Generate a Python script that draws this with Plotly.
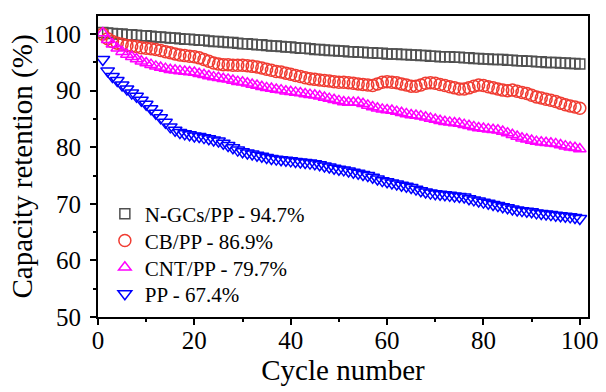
import plotly.graph_objects as go

cycles = list(range(1, 101))

ngcs_pp = [100.3, 100.2, 100.1, 100.0, 100.0, 99.9, 99.9, 99.8, 99.7, 99.7,
           99.6, 99.5, 99.5, 99.4, 99.3, 99.3, 99.2, 99.1, 99.1, 99.0,
           98.9, 98.9, 98.8, 98.7, 98.7, 98.6, 98.5, 98.5, 98.4, 98.3,
           98.3, 98.2, 98.1, 98.1, 98.0, 97.9, 97.9, 97.8, 97.7, 97.7,
           97.6, 97.5, 97.5, 97.4, 97.3, 97.3, 97.2, 97.1, 97.1, 97.0,
           97.0, 96.9, 96.9, 96.8, 96.8, 96.7, 96.7, 96.6, 96.6, 96.5,
           96.5, 96.5, 96.4, 96.4, 96.3, 96.3, 96.2, 96.2, 96.1, 96.1,
           96.0, 96.0, 96.0, 95.9, 95.9, 95.8, 95.8, 95.7, 95.7, 95.6,
           95.6, 95.5, 95.5, 95.5, 95.4, 95.4, 95.3, 95.3, 95.2, 95.2,
           95.1, 95.1, 95.0, 95.0, 95.0, 94.9, 94.9, 94.8, 94.8, 94.7]

cb_pp = [100.0, 99.2, 98.7, 98.4, 98.2, 98.0, 97.9, 97.8, 97.6, 97.5,
         97.4, 97.3, 97.1, 96.9, 96.7, 96.5, 96.3, 96.2, 96.1, 96.0,
         95.8, 95.5, 95.2, 94.9, 94.7, 94.6, 94.6, 94.5, 94.5, 94.5,
         94.4, 94.3, 94.2, 94.0, 93.8, 93.6, 93.4, 93.3, 93.1, 92.9,
         92.7, 92.5, 92.3, 92.1, 92.0, 91.9, 91.8, 91.7, 91.6, 91.5,
         91.5, 91.4, 91.3, 91.2, 91.1, 91.0, 90.9, 91.2, 91.5, 91.6,
         91.5, 91.4, 91.2, 91.0, 90.8, 90.8, 91.0, 91.3, 91.4, 91.3,
         91.1, 90.9, 90.7, 90.5, 90.3, 90.3, 90.5, 90.8, 91.0, 90.9,
         90.7, 90.5, 90.3, 90.1, 90.0, 90.1, 89.9, 89.7, 89.5, 89.2,
         88.9, 88.7, 88.5, 88.3, 88.1, 87.8, 87.5, 87.3, 87.1, 86.9]

cnt_pp = [100.2, 99.0, 98.2, 97.5, 96.9, 96.4, 96.0, 95.6, 95.2, 94.9,
          94.6, 94.3, 94.1, 93.9, 93.7, 93.6, 93.5, 93.4, 93.3, 93.2,
          93.0, 92.8, 92.6, 92.4, 92.3, 92.1, 92.0, 91.8, 91.6, 91.5,
          91.3, 91.1, 90.9, 90.7, 90.5, 90.4, 90.2, 90.1, 89.9, 89.8,
          89.7, 89.6, 89.4, 89.3, 89.2, 89.0, 88.8, 88.6, 88.4, 88.2,
          88.0, 87.9, 87.9, 87.9, 87.7, 87.4, 87.1, 86.9, 86.7, 86.6,
          86.5, 86.3, 86.1, 85.9, 85.7, 85.6, 85.5, 85.3, 85.1, 84.9,
          84.7, 84.5, 84.4, 84.3, 84.2, 84.0, 83.8, 83.6, 83.4, 83.3,
          83.2, 83.1, 83.0, 82.8, 82.5, 82.2, 81.9, 81.6, 81.4, 81.2,
          81.0, 80.9, 80.8, 80.7, 80.6, 80.4, 80.2, 80.0, 79.9, 79.7]

pp = [95.5, 93.5, 92.5, 91.8, 91.0, 90.3, 89.6, 89.0, 88.3, 87.6,
      86.8, 86.0, 85.2, 84.4, 83.6, 83.0, 82.6, 82.4, 82.2, 82.0,
      81.9, 81.7, 81.5, 81.3, 81.1, 80.7, 80.3, 79.9, 79.5, 79.2,
      79.0, 78.8, 78.6, 78.4, 78.2, 78.0, 77.9, 77.8, 77.7, 77.6,
      77.5, 77.4, 77.3, 77.2, 77.1, 76.9, 76.7, 76.5, 76.3, 76.1,
      76.0, 75.8, 75.6, 75.4, 75.2, 75.0, 74.7, 74.4, 74.1, 73.9,
      73.7, 73.5, 73.3, 73.1, 72.9, 72.6, 72.3, 72.1, 71.9, 71.8,
      71.7, 71.6, 71.5, 71.4, 71.3, 71.2, 70.9, 70.7, 70.5, 70.3,
      70.1, 69.9, 69.7, 69.5, 69.3, 69.1, 68.9, 68.8, 68.7, 68.6,
      68.4, 68.3, 68.2, 68.1, 68.0, 67.9, 67.8, 67.7, 67.6, 67.4]

series_names = ["N-GCs/PP - 94.7%", "CB/PP - 86.9%", "CNT/PP - 79.7%", "PP - 67.4%"]
series_values = [ngcs_pp, cb_pp, cnt_pp, pp]
colors = ["#505050", "#F03C32", "#FF00FF", "#0000FF"]
symbols = ["square-open", "circle-open", "triangle-up-open", "triangle-down-open"]
sizes = [10, 12, 11, 12]
legend_ids = ["legend", "legend2", "legend3", "legend4"]

FONT = "Liberation Serif"

fig = go.Figure()
for name, vals, col, sym, sz, lg in zip(series_names, series_values, colors, symbols, sizes, legend_ids):
    fig.add_trace(go.Scatter(
        x=cycles, y=vals, mode="markers", name=name, legend=lg,
        marker=dict(symbol=sym, size=sz, color=col, line=dict(color=col, width=1.5)),
    ))

axis_common = dict(
    showline=True, linecolor="black", linewidth=2, mirror=True,
    showgrid=False, zeroline=False,
    ticks="outside", ticklen=6, tickwidth=2, tickcolor="black",
    tickfont=dict(family=FONT, size=25, color="black"),
)

fig.update_xaxes(
    range=[0, 101.7], dtick=20, tick0=0, ticklabelstandoff=-6,
    minor=dict(ticks="outside", ticklen=3, tickwidth=2, tickcolor="black", dtick=10, tick0=0),
    title=dict(text="Cycle number", font=dict(family=FONT, size=29, color="black"), standoff=4),
    **axis_common,
)
fig.update_yaxes(
    range=[50, 103.2], dtick=10, tick0=50, ticklabelstandoff=4,
    minor=dict(ticks="outside", ticklen=3, tickwidth=2, tickcolor="black", dtick=5, tick0=50),
    title=dict(text="Capacity retention (%)", font=dict(family=FONT, size=29, color="black"), standoff=2),
    **axis_common,
)

legend_style = dict(
    xanchor="left", yanchor="top", bgcolor="rgba(0,0,0,0)", borderwidth=0,
    font=dict(family=FONT, size=21, color="black"),
)
row_y = [0.41, 0.321, 0.232, 0.144]
layout_legends = {}
for lg, yy in zip(legend_ids, row_y):
    layout_legends[lg] = dict(x=0.014, y=yy, **legend_style)

fig.update_layout(
    width=606, height=392,
    margin=dict(l=98, r=18, t=16, b=75, autoexpand=False),
    paper_bgcolor="white", plot_bgcolor="white",
    showlegend=True,
    font=dict(family=FONT, color="black"),
    **layout_legends,
)

fig.write_html("out.html")
